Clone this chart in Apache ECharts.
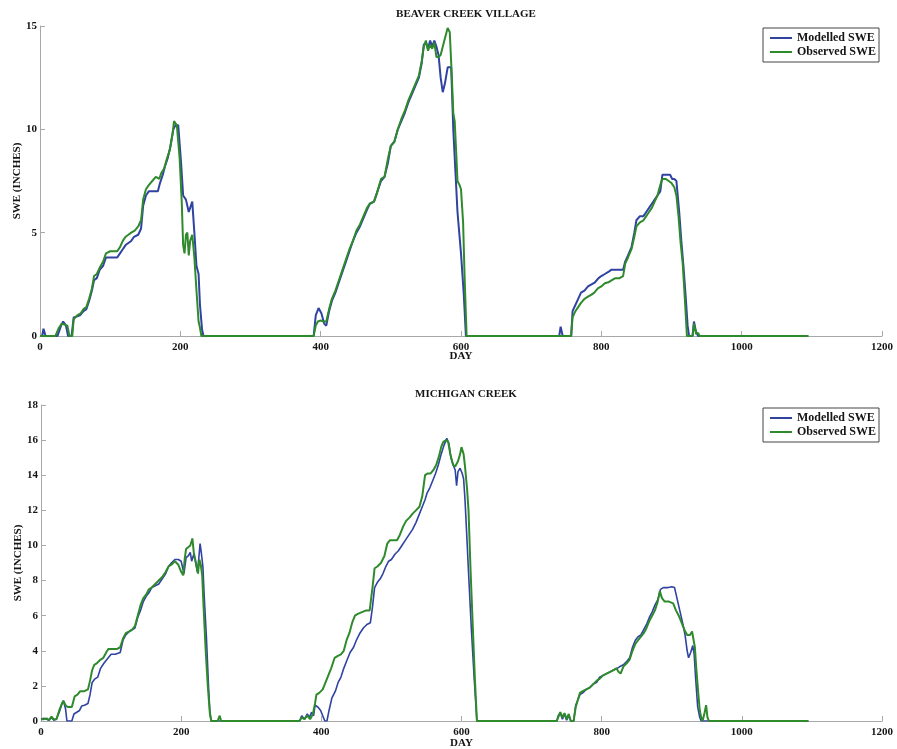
<!DOCTYPE html>
<html>
<head>
<meta charset="utf-8">
<script src="https://cdn.jsdelivr.net/npm/echarts@6/dist/echarts.min.js"></script>
<style>
  html, body { margin: 0; padding: 0; background: #fff; }
  #main { width: 897px; height: 749px; }
</style>
</head>
<body>
<div id="main"></div>
<script>
// day vs SWE (inches)
var seriesNames = ['Modelled SWE', 'Observed SWE'];
var titles = ['BEAVER CREEK VILLAGE', 'MICHIGAN CREEK'];

var bcModelled = [[0,0],[3,0],[5,0.35],[8,0],[25,0],[30,0.5],[33,0.7],[37,0.5],[40,0],[45,0],[48,0.9],[53,0.95],[57,1.0],[62,1.2],[66,1.3],[70,1.7],[74,2.2],[77,2.7],[81,2.8],[85,3.2],[90,3.4],[94,3.8],[100,3.8],[106,3.8],[110,3.8],[114,4.0],[118,4.2],[122,4.4],[126,4.5],[130,4.6],[134,4.8],[140,4.9],[144,5.2],[147,6.3],[151,6.8],[155,7.0],[162,7.0],[168,7.0],[171,7.4],[175,7.8],[178,8.2],[182,8.6],[186,9.2],[190,10.0],[193,10.2],[197,10.2],[201,8.4],[204,6.8],[208,6.6],[212,6.0],[214,6.2],[217,6.5],[220,5.0],[223,3.4],[226,3.0],[228,1.5],[231,0.3],[233,0],
  [390,0],[393,1.0],[397,1.35],[401,1.1],[405,0.6],[408,0.5],[412,1.2],[416,1.7],[421,2.1],[426,2.6],[431,3.1],[436,3.6],[441,4.1],[446,4.6],[451,5.0],[456,5.3],[461,5.7],[466,6.1],[470,6.4],[476,6.5],[480,6.9],[486,7.5],[491,7.7],[496,8.4],[500,9.2],[505,9.4],[510,10.0],[515,10.4],[520,10.8],[525,11.3],[530,11.7],[535,12.1],[540,12.5],[544,13.2],[547,14.1],[550,14.2],[553,13.9],[556,14.3],[559,14.0],[562,14.3],[565,14.0],[568,13.6],[571,12.5],[574,11.8],[577,12.2],[581,13.0],[586,13.0],[589,10.0],[592,8.0],[595,6.0],[600,4.0],[604,2.0],[607,0],
  [740,0],[742,0.45],[745,0],[757,0],[759,1.2],[763,1.5],[767,1.8],[771,2.1],[776,2.2],[781,2.4],[786,2.5],[791,2.6],[796,2.8],[800,2.9],[805,3.0],[810,3.1],[814,3.2],[820,3.2],[826,3.2],[831,3.2],[834,3.6],[838,3.9],[843,4.3],[847,5.0],[850,5.6],[855,5.8],[860,5.8],[864,6.0],[868,6.2],[872,6.4],[876,6.6],[880,6.8],[884,7.0],[887,7.8],[893,7.8],[898,7.8],[901,7.6],[904,7.6],[907,7.5],[911,6.0],[914,4.6],[917,3.4],[920,2.0],[923,0.5],[925,0],[930,0],[932,0.7],[935,0.2],[938,0],[1095,0]];

var bcObserved = [[0,0],[22,0],[27,0.4],[31,0.6],[35,0.55],[39,0.5],[42,0],[46,0],[48,0.8],[53,1.0],[58,1.1],[62,1.3],[66,1.4],[70,1.8],[74,2.3],[77,2.9],[81,3.0],[85,3.3],[90,3.6],[94,4.0],[100,4.1],[106,4.1],[110,4.1],[114,4.3],[118,4.6],[122,4.8],[126,4.9],[130,5.0],[135,5.1],[140,5.3],[144,5.6],[147,6.6],[151,7.1],[155,7.3],[160,7.5],[165,7.7],[170,7.6],[173,7.9],[177,8.1],[181,8.6],[185,9.0],[189,9.8],[191,10.4],[195,10.2],[199,8.6],[202,6.5],[204,4.4],[206,4.0],[208,4.9],[210,5.0],[212,3.9],[214,4.6],[217,4.9],[220,3.8],[223,2.2],[226,0.7],[228,0.4],[230,0],
  [390,0],[393,0.5],[396,0.7],[400,0.75],[404,0.7],[408,0.7],[412,1.3],[416,1.8],[421,2.2],[426,2.7],[431,3.2],[436,3.7],[441,4.2],[446,4.6],[451,5.1],[456,5.4],[461,5.8],[466,6.2],[470,6.4],[476,6.5],[480,6.9],[486,7.6],[491,7.7],[496,8.6],[500,9.2],[505,9.4],[510,10.0],[515,10.5],[520,10.9],[525,11.4],[530,11.8],[535,12.2],[540,12.6],[544,13.3],[547,14.0],[550,14.3],[553,13.8],[556,14.1],[559,13.9],[562,14.2],[565,13.5],[568,13.5],[571,13.6],[574,14.0],[577,14.4],[581,14.9],[584,14.7],[587,12.5],[589,10.8],[591,10.4],[593,9.0],[595,7.5],[598,7.3],[600,7.1],[603,5.5],[605,3.0],[608,0],
  [757,0],[759,0.9],[763,1.2],[767,1.4],[771,1.6],[776,1.8],[781,1.9],[786,2.0],[790,2.1],[795,2.3],[800,2.4],[805,2.55],[810,2.6],[815,2.7],[820,2.8],[826,2.8],[831,2.9],[834,3.5],[838,3.8],[843,4.2],[847,4.8],[850,5.3],[855,5.5],[860,5.6],[864,5.8],[868,6.0],[872,6.2],[876,6.5],[880,6.8],[884,7.3],[887,7.6],[892,7.6],[896,7.5],[900,7.4],[904,7.2],[907,6.8],[910,5.8],[913,4.5],[916,3.5],[919,1.8],[922,0],[930,0],[932,0.6],[935,0.1],[938,0.15],[940,0],[1095,0]];

var mcModelled = [[0,0.1],[4,0.15],[8,0.1],[12,0.05],[15,0.2],[18,0.05],[22,0.1],[26,0.5],[30,1.0],[32,1.15],[35,0.7],[37,0],[44,0],[47,0.4],[51,0.5],[55,0.6],[58,0.85],[62,0.9],[67,1.0],[70,1.5],[73,2.2],[77,2.4],[81,2.5],[85,3.0],[90,3.3],[96,3.6],[100,3.8],[106,3.8],[113,3.9],[117,4.6],[121,4.9],[126,5.1],[130,5.2],[134,5.3],[138,5.9],[142,6.3],[146,6.8],[150,7.1],[154,7.3],[158,7.6],[163,7.7],[168,7.8],[173,8.1],[178,8.4],[182,8.8],[186,9.0],[191,9.2],[196,9.2],[200,9.1],[204,8.4],[207,9.3],[210,9.4],[213,9.6],[215,9.1],[218,9.5],[221,9.0],[223,8.5],[225,9.2],[227,10.1],[229,9.5],[231,8.8],[233,7.0],[236,4.8],[239,2.0],[241,0.5],[243,0],
  [369,0],[372,0.3],[376,0.1],[380,0.4],[383,0.2],[386,0.5],[389,0.3],[391,0.9],[395,0.8],[399,0.6],[402,0.3],[405,0],[408,0],[411,0.6],[415,1.3],[420,1.7],[424,2.2],[428,2.5],[432,3.0],[436,3.4],[441,3.9],[446,4.2],[450,4.6],[455,5.0],[460,5.3],[465,5.5],[470,5.6],[473,6.5],[476,7.6],[480,7.9],[484,8.1],[488,8.4],[492,8.8],[496,9.1],[500,9.2],[505,9.5],[510,9.7],[515,10.0],[520,10.3],[525,10.6],[530,10.9],[535,11.3],[540,11.8],[544,12.2],[548,12.6],[551,13.0],[555,13.3],[559,13.7],[563,14.1],[567,14.6],[571,15.2],[575,15.7],[579,16.1],[582,15.8],[585,15.0],[588,14.6],[591,14.3],[593,13.4],[595,14.2],[598,14.4],[601,14.1],[603,13.8],[605,12.6],[607,11.0],[610,8.5],[614,5.3],[618,2.5],[622,0],
  [736,0],[738,0.3],[741,0.45],[744,0.1],[747,0.4],[750,0.05],[753,0.3],[756,0],[760,0],[763,0.9],[766,1.2],[769,1.5],[773,1.6],[778,1.8],[783,1.9],[788,2.1],[793,2.2],[797,2.5],[802,2.6],[807,2.7],[812,2.8],[817,2.9],[822,3.0],[826,3.1],[831,3.2],[836,3.4],[840,3.6],[844,4.2],[848,4.6],[852,4.8],[856,4.9],[860,5.2],[864,5.5],[868,5.9],[872,6.2],[876,6.6],[880,6.9],[884,7.5],[888,7.6],[895,7.6],[900,7.65],[904,7.6],[908,6.9],[912,6.2],[916,5.5],[919,4.9],[922,4.0],[924,3.6],[927,3.9],[930,4.3],[932,3.8],[934,2.5],[937,0.8],[940,0.2],[942,0],[1095,0]];

var mcObserved = [[0,0.1],[4,0.1],[8,0.15],[11,0.05],[15,0.25],[18,0.1],[22,0.1],[26,0.6],[30,1.0],[32,1.15],[35,0.9],[38,0.8],[44,0.8],[48,1.4],[52,1.5],[56,1.7],[62,1.7],[67,1.8],[70,2.3],[73,2.9],[76,3.2],[80,3.3],[85,3.5],[89,3.6],[93,3.9],[96,4.1],[102,4.1],[108,4.1],[113,4.2],[117,4.7],[121,5.0],[126,5.1],[130,5.2],[134,5.4],[138,6.0],[142,6.6],[146,7.0],[150,7.2],[154,7.5],[158,7.6],[163,7.8],[168,8.0],[173,8.2],[178,8.5],[182,8.8],[186,8.9],[191,9.1],[196,8.9],[200,8.5],[203,8.3],[205,9.2],[207,9.8],[210,9.9],[213,10.0],[216,10.4],[218,9.6],[221,9.0],[224,8.4],[226,9.2],[228,8.9],[230,8.3],[232,6.5],[235,4.0],[238,2.0],[241,0.4],[243,0],[252,0],[255,0.3],[257,0],
  [369,0],[372,0.2],[376,0.1],[380,0.3],[384,0.1],[388,0.4],[391,1.0],[393,1.5],[397,1.6],[402,1.8],[406,2.2],[410,2.6],[414,3.0],[419,3.6],[423,3.7],[428,3.8],[432,4.0],[436,4.6],[440,5.0],[444,5.6],[448,6.0],[452,6.1],[458,6.2],[464,6.3],[469,6.3],[473,7.6],[476,8.7],[480,8.8],[485,9.0],[490,9.4],[494,10.1],[498,10.3],[503,10.3],[508,10.3],[512,10.6],[517,11.1],[521,11.4],[526,11.6],[530,11.8],[535,12.0],[540,12.2],[544,12.8],[548,14.0],[552,14.1],[556,14.1],[560,14.3],[564,14.6],[568,15.1],[571,15.6],[574,15.9],[578,16.0],[581,15.9],[584,15.2],[588,14.6],[591,14.5],[595,14.8],[598,15.2],[600,15.6],[603,15.2],[605,14.5],[608,13.2],[610,12.0],[613,8.5],[616,5.5],[619,2.5],[622,0],
  [736,0],[738,0.2],[741,0.5],[744,0.2],[747,0.45],[750,0.1],[753,0.4],[756,0],[760,0],[763,0.8],[766,1.2],[769,1.6],[773,1.7],[778,1.8],[783,1.9],[788,2.1],[793,2.3],[797,2.4],[802,2.6],[807,2.7],[812,2.8],[817,2.9],[821,3.0],[824,2.8],[827,2.7],[831,3.1],[836,3.3],[840,3.5],[844,4.0],[848,4.4],[852,4.6],[856,4.8],[860,5.0],[864,5.3],[868,5.7],[872,6.0],[876,6.3],[880,6.8],[883,7.4],[886,7.0],[890,6.8],[896,6.8],[902,6.7],[906,6.3],[910,6.0],[914,5.6],[918,5.2],[922,4.9],[926,4.9],[929,5.1],[931,5.0],[933,4.2],[935,3.0],[938,1.5],[940,0.6],[942,0.2],[944,0],[947,0.5],[949,0.9],[951,0.2],[953,0],[1095,0]];

var blue = '#3042a2';
var green = '#2f8a2c';
var ink = '#151515';
var axisGray = '#a8a8a8';
var font = '"Liberation Serif", "Times New Roman", serif';

function xAxisFor(idx, gap){
	return {
		type: 'value', gridIndex: idx, min: 0, max: 1200, interval: 200,
		name: 'DAY', nameLocation: 'middle', nameGap: gap, nameMoveOverlap: false,
		nameTextStyle: {color: ink, fontFamily: font, fontWeight: 'bold', fontSize: 11},
		axisLine: {lineStyle: {color: axisGray, width: 1}},
		axisTick: {inside: true, length: 5, lineStyle: {color: axisGray}},
		axisLabel: {color: ink, fontFamily: font, fontWeight: 'bold', fontSize: 11, margin: 6,
			formatter: function(v){ return String(v); }},
		splitLine: {show: false}
	};
}

function yAxisFor(idx, max, step){
	return {
		type: 'value', gridIndex: idx, min: 0, max: max, interval: step,
		name: 'SWE (INCHES)', nameLocation: 'middle', nameGap: 17, nameMoveOverlap: false,
		nameTextStyle: {color: ink, fontFamily: font, fontWeight: 'bold', fontSize: 11},
		axisLine: {show: true, lineStyle: {color: axisGray, width: 1}},
		axisTick: {show: true, inside: true, length: 5, lineStyle: {color: axisGray}},
		axisLabel: {color: ink, fontFamily: font, fontWeight: 'bold', fontSize: 11, margin: 3},
		splitLine: {show: false}
	};
}

function lineFor(name, data, idx, color, width){
	return {
		name: name, type: 'line', xAxisIndex: idx, yAxisIndex: idx,
		data: data, symbol: 'none', smooth: false,
		lineStyle: {color: color, width: width},
		itemStyle: {color: color}
	};
}

function legendFor(idx, top){
	return {
		id: 'lg' + idx,
		orient: 'vertical', left: 763, top: top,
		data: seriesNames,
		icon: 'rect',
		backgroundColor: '#fff',
		borderColor: '#444', borderWidth: 1, borderRadius: 0,
		padding: [3, 3, 3, 7],
		itemGap: 0, itemWidth: 22, itemHeight: 2,
		textStyle: {color: ink, fontFamily: font, fontWeight: 'bold', fontSize: 12, lineHeight: 14},
		selectedMode: false
	};
}

var chart = echarts.init(document.getElementById('main'));
chart.setOption({
	animation: false,
	backgroundColor: '#fff',
	title: [
		{text: titles[0], left: 461, top: 4, textAlign: 'center',
			textStyle: {color: ink, fontFamily: font, fontWeight: 'bold', fontSize: 11}},
		{text: titles[1], left: 461, top: 384, textAlign: 'center',
			textStyle: {color: ink, fontFamily: font, fontWeight: 'bold', fontSize: 11}}
	],
	legend: [legendFor(0, 28), legendFor(1, 408)],
	grid: [
		{left: 40, right: 15, top: 26, height: 310, outerBoundsMode: 'none'},
		{left: 41, right: 15, top: 405, height: 316, outerBoundsMode: 'none'}
	],
	xAxis: [xAxisFor(0, 15), xAxisFor(1, 17)],
	yAxis: [yAxisFor(0, 15, 5), yAxisFor(1, 18, 2)],
	series: [
		lineFor(seriesNames[0], bcModelled, 0, blue, 2),
		lineFor(seriesNames[1], bcObserved, 0, green, 2),
		lineFor(seriesNames[0], mcModelled, 1, blue, 1.6),
		lineFor(seriesNames[1], mcObserved, 1, green, 2)
	]
});
</script>
</body>
</html>
